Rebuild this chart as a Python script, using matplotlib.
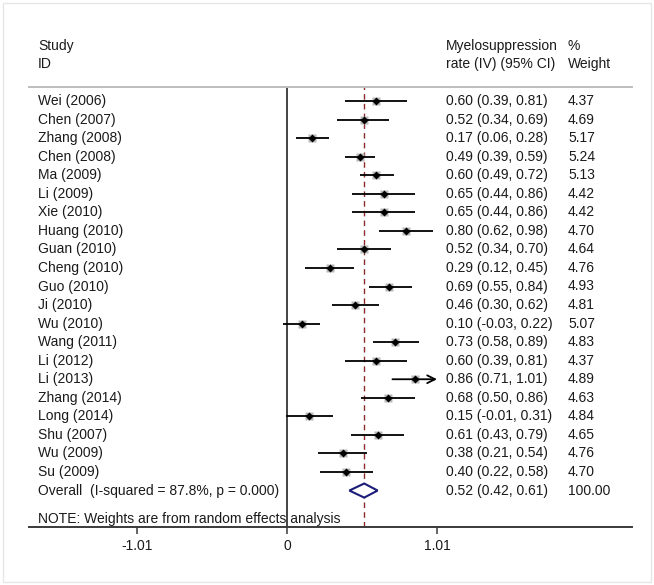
import matplotlib
matplotlib.use("Agg")
import matplotlib.pyplot as plt
from matplotlib.patches import Rectangle, Polygon
import numpy as np

plt.rcParams['font.family'] = ['Liberation Sans', 'DejaVu Sans']

studies = ["Wei (2006)", "Chen (2007)", "Zhang (2008)", "Chen (2008)", "Ma (2009)",
           "Li (2009)", "Xie (2010)", "Huang (2010)", "Guan (2010)", "Cheng (2010)",
           "Guo (2010)", "Ji (2010)", "Wu (2010)", "Wang (2011)", "Li (2012)",
           "Li (2013)", "Zhang (2014)", "Long (2014)", "Shu (2007)", "Wu (2009)", "Su (2009)"]
est = [0.60, 0.52, 0.17, 0.49, 0.60, 0.65, 0.65, 0.80, 0.52, 0.29, 0.69,
       0.46, 0.10, 0.73, 0.60, 0.86, 0.68, 0.15, 0.61, 0.38, 0.40]
lo = [0.39, 0.34, 0.06, 0.39, 0.49, 0.44, 0.44, 0.62, 0.34, 0.12, 0.55,
      0.30, -0.03, 0.58, 0.39, 0.71, 0.50, -0.01, 0.43, 0.21, 0.22]
hi = [0.81, 0.69, 0.28, 0.59, 0.72, 0.86, 0.86, 0.98, 0.70, 0.45, 0.84,
      0.62, 0.22, 0.89, 0.81, 1.01, 0.86, 0.31, 0.79, 0.54, 0.58]
weights = [4.37, 4.69, 5.17, 5.24, 5.13, 4.42, 4.42, 4.70, 4.64, 4.76, 4.93,
           4.81, 5.07, 4.83, 4.37, 4.89, 4.63, 4.84, 4.65, 4.76, 4.70]

overall_est, overall_lo, overall_hi = 0.52, 0.42, 0.61
overall_weight = 100.00
i_squared = 87.8
p_value = 0.000
tick_vals = [-1.01, 0, 1.01]
tick_labels = ["-1.01", "0", "1.01"]
plot_max = 1.01

W, H = 654, 585
fig = plt.figure(figsize=(W / 100, H / 100), dpi=100)
fig.patch.set_facecolor('white')

# axes spans pixel x 29..632, y 87..527
ax = fig.add_axes([29 / W, 1 - 527 / H, (632 - 29) / W, (527 - 87) / H])
px_per_unit = 148.5
x0_px = 287
ax.set_xlim((29 - x0_px) / px_per_unit, (632 - x0_px) / px_per_unit)
row_px = 18.55
row0_px = 101
ax.set_ylim((527 - row0_px) / row_px, (87 - row0_px) / row_px)

def xd(px):
    return (px - x0_px) / px_per_unit

txt_col = '#1a1a1a'
fs = 10

for s in ['left', 'right']:
    ax.spines[s].set_visible(False)
ax.spines['top'].set_color('#bdbdbd')
ax.spines['top'].set_linewidth(1.4)
ax.spines['bottom'].set_color('#3a3a3a')
ax.spines['bottom'].set_linewidth(1.4)
ax.set_yticks([])
ax.set_xticks(tick_vals)
ax.set_xticklabels(tick_labels, fontsize=fs, color=txt_col)
ax.tick_params(axis='x', direction='out', length=5, width=1.1, pad=4, colors='#3a3a3a',
               labelcolor=txt_col)

# zero line and overall dashed line
ax.axvline(0, color='#111111', lw=1.1, zorder=1)
ax.axvline(overall_est, color='#8b2a2a', lw=1.0, ls=(0, (4, 3)), zorder=1)

n = len(studies)
rows = np.arange(n)
for i in range(n):
    r = rows[i]
    ms = 2.7 * np.sqrt(weights[i])
    ax.plot([est[i]], [r], marker='s', ms=ms, color='#b8b8b8', mec='none', zorder=2)
    if hi[i] >= plot_max:
        ax.annotate('', xy=(plot_max, r), xytext=(lo[i], r),
                    arrowprops=dict(arrowstyle='->', color='black', lw=1.3,
                                    mutation_scale=14, shrinkA=0, shrinkB=0), zorder=3)
    else:
        ax.plot([lo[i], hi[i]], [r, r], color='black', lw=1.3, solid_capstyle='butt', zorder=3)
    ax.plot([est[i]], [r], marker='D', ms=3.6, color='black', mec='none', zorder=4)
    ax.text(xd(38), r, studies[i], fontsize=fs, color=txt_col, va='center', ha='left', clip_on=False)
    ax.text(xd(446), r, f"{est[i]:.2f} ({lo[i]:.2f}, {hi[i]:.2f})", fontsize=fs, color=txt_col,
            va='center', ha='left', clip_on=False)
    ax.text(xd(568), r, f"{weights[i]:.2f}", fontsize=fs, color=txt_col, va='center', ha='left',
            clip_on=False)

# overall
r_ov = n
h = 0.38
diamond = Polygon([(overall_lo, r_ov), (overall_est, r_ov - h), (overall_hi, r_ov),
                   (overall_est, r_ov + h)], closed=True, facecolor='white',
                  edgecolor='#1c1c78', lw=1.5, zorder=3)
ax.add_patch(diamond)
ax.text(xd(38), r_ov, f"Overall  (I-squared = {i_squared:.1f}%, p = {p_value:.3f})", fontsize=fs,
        color=txt_col, va='center', ha='left', clip_on=False)
ax.text(xd(446), r_ov, f"{overall_est:.2f} ({overall_lo:.2f}, {overall_hi:.2f})", fontsize=fs,
        color=txt_col, va='center', ha='left', clip_on=False)
ax.text(xd(568), r_ov, f"{overall_weight:.2f}", fontsize=fs, color=txt_col, va='center', ha='left',
        clip_on=False)

ax.text(xd(38), (519 - row0_px) / row_px, "NOTE: Weights are from random effects analysis",
        fontsize=fs, color=txt_col, va='center', ha='left', clip_on=False)

# headers
y_study = (46 - row0_px) / row_px
y_id = (64 - row0_px) / row_px
ax.text(xd(38), y_study, "Study", fontsize=fs, color=txt_col, va='center', ha='left', clip_on=False)
ax.text(xd(38), y_id, "ID", fontsize=fs, color=txt_col, va='center', ha='left', clip_on=False)
ax.text(xd(446), y_study, "Myelosuppression", fontsize=fs, color=txt_col, va='center', ha='left',
        clip_on=False)
ax.text(xd(446), y_id, "rate (IV) (95% CI)", fontsize=fs, color=txt_col, va='center', ha='left',
        clip_on=False)
ax.text(xd(568), y_study, "%", fontsize=fs, color=txt_col, va='center', ha='left', clip_on=False)
ax.text(xd(568), y_id, "Weight", fontsize=fs, color=txt_col, va='center', ha='left', clip_on=False)

# faint outer border
fig.patches.append(Rectangle((3 / W, 3 / H), (651 - 3) / W, (582 - 3) / H, transform=fig.transFigure,
                             fill=False, edgecolor='#e6e6e6', lw=1.0))

fig.savefig("out.png", dpi=100, facecolor='white')
